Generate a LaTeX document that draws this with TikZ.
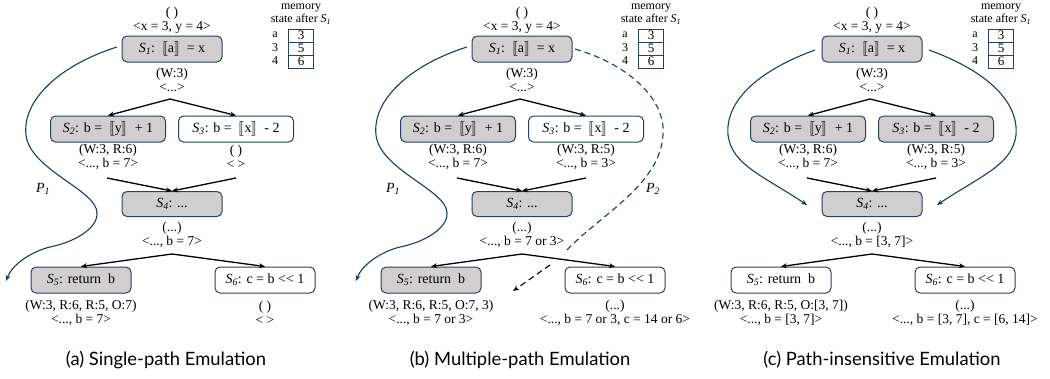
\documentclass[tikz,border=0pt]{standalone}
\usepackage{fontspec}
\setmainfont{Liberation Serif}
\setsansfont{Lato}
\usepackage{stmaryrd}
\usetikzlibrary{arrows.meta}

\definecolor{relleno}{HTML}{D0CECE}
\definecolor{borde}{HTML}{2E3F5E}
\definecolor{camino}{HTML}{1F3864}

\newcommand{\Sn}[1]{\textit{S\textsubscript{#1}}}
\newcommand{\Pn}[1]{\textit{P\textsubscript{#1}}}
\newcommand{\sem}[1]{$\llbracket$#1$\rrbracket$}

\tikzset{
  caja/.style={draw=borde, line width=1pt, rounded corners=5pt, minimum height=26pt,
    minimum width=100pt, inner sep=0pt, font=\fontsize{14}{16}\selectfont},
  gris/.style={caja, fill=relleno},
  blanca/.style={caja, fill=white},
  ancha/.style={minimum width=115pt},
  etiq/.style={align=center, inner sep=0pt, font=\fontsize{13.5}{14}\selectfont},
  mem/.style={align=center, inner sep=0pt, font=\fontsize{12}{13}\selectfont},
  celda/.style={draw=borde, line width=0.9pt, minimum width=25pt, minimum height=13pt,
    inner sep=0pt, font=\fontsize{13}{13}\selectfont},
  flecha/.style={-{Stealth[length=6pt,width=5pt]}, line width=1.3pt},
  curva/.style={-{Stealth[length=6pt,width=5pt]}, line width=1.1pt, draw=camino},
  titulo/.style={font=\sffamily\fontsize{18.4}{21}\selectfont},
}

\begin{document}
\begin{tikzpicture}[x=1pt, y=-1pt]
  \useasboundingbox (0,0) rectangle (1050,378);

  % Memoria
  \foreach \dx in {0,350,700} {
    \node[mem] (tit\dx) at (\dx+301,14) {memory\\state after \Sn{1}};
    \foreach \r/\k/\v in {0/a/3,1/3/5,2/4/6} {
      \node[celda] (m\dx\r) at (\dx+301,35.5+13*\r) {\v};
      \node[mem] (k\dx\r) at (\dx+275,35+13*\r) {\k};
    }
  }

  % (a) Un camino
  \begin{scope}
    \node[etiq] (a0) at (172,20) {( )\\<x = 3, y = 4>};
    \node[gris] (a1) at (172,49) {\Sn{1}:\ \ \sem{a}\ \ = x};
    \node[etiq] (a1l) at (172,80) {(W:3)\\<...>};
    \node[gris, ancha] (a2) at (108,129) {\Sn{2}: b =\ \ \sem{y}\ \ + 1};
    \node[blanca, ancha] (a3) at (236,129) {\Sn{3}: b =\ \ \sem{x}\ \ - 2};
    \node[etiq] (a2l) at (108,157) {(W:3, R:6)\\<..., b = 7>};
    \node[etiq] (a3l) at (236,157) {( )\\< >};
    \node[gris, minimum height=25pt] (a4) at (172,204) {\Sn{4}: ...};
    \node[etiq] (a4l) at (172,235) {(...)\\<..., b = 7>};
    \node[gris] (a5) at (81,280) {\Sn{5}: return\ \ b};
    \node[blanca] (a6) at (265,280) {\Sn{6}: c = b <\kern0pt< 1};
    \node[etiq] (a5l) at (81,313) {(W:3, R:6, R:5, O:7)\\<..., b = 7>};
    \node[etiq] (a6l) at (265,313) {( )\\< >};

    % Flechas
    \coordinate (a1b) at (170,99);
    \coordinate (a2b) at (107,178);
    \coordinate (a3b) at (236,178);
    \coordinate (a4b) at (172,254);
    \draw[flecha] (a1b) -- (a2.north);
    \draw[flecha] (a1b) -- (a3.north);
    \draw[flecha] (a2b) -- (a4.north);
    \draw[flecha] (a3b) -- (a4.north);
    \draw[flecha] (a4b) -- (a5.north);
    \draw[flecha] (a4b) -- (a6.north);

    % Camino P1
    \coordinate (ap1) at (117,47);
    \coordinate (ap1e) at (6,281);
    \draw[curva] (ap1) .. controls (60,65) and (22,100) .. (26,135)
      .. controls (30,170) and (97,190) .. (97,213)
      .. controls (98,228) and (75,242) .. (50,247)
      .. controls (30,252) and (12,265) .. (ap1e);
    \node[etiq, font=\fontsize{14}{14}\selectfont] (ap1l) at (43,189) {\Pn{1}};

    \node[titulo] (capa) at (166,360) {(a) Single-path Emulation};
  \end{scope}

  % (b) Varios caminos
  \begin{scope}[xshift=350]
    \node[etiq] (b0) at (172,20) {( )\\<x = 3, y = 4>};
    \node[gris] (b1) at (172,49) {\Sn{1}:\ \ \sem{a}\ \ = x};
    \node[etiq] (b1l) at (172,80) {(W:3)\\<...>};
    \node[gris, ancha] (b2) at (108,129) {\Sn{2}: b =\ \ \sem{y}\ \ + 1};
    \node[blanca, ancha] (b3) at (236,129) {\Sn{3}: b =\ \ \sem{x}\ \ - 2};
    \node[etiq] (b2l) at (108,157) {(W:3, R:6)\\<..., b = 7>};
    \node[etiq] (b3l) at (236,157) {(W:3, R:5)\\<..., b = 3>};
    \node[gris, minimum height=25pt] (b4) at (172,204) {\Sn{4}: ...};
    \node[etiq] (b4l) at (172,235) {(...)\\<..., b = 7 or 3>};
    \node[gris] (b5) at (81,280) {\Sn{5}: return\ \ b};
    \node[blanca] (b6) at (265,280) {\Sn{6}: c = b <\kern0pt< 1};
    \node[etiq] (b5l) at (81,313) {(W:3, R:6, R:5, O:7, 3)\\<..., b = 7 or 3>};
    \node[etiq] (b6l) at (265,313) {(...)\\<..., b = 7 or 3, c = 14 or 6>};

    % Flechas
    \coordinate (b1b) at (170,99);
    \coordinate (b2b) at (107,178);
    \coordinate (b3b) at (236,178);
    \coordinate (b4b) at (172,254);
    \draw[flecha] (b1b) -- (b2.north);
    \draw[flecha] (b1b) -- (b3.north);
    \draw[flecha] (b2b) -- (b4.north);
    \draw[flecha] (b3b) -- (b4.north);
    \draw[flecha] (b4b) -- (b5.north);
    \draw[flecha] (b4b) -- (b6.north);

    % Camino P1
    \coordinate (bp1) at (117,47);
    \coordinate (bp1e) at (6,281);
    \draw[curva] (bp1) .. controls (60,65) and (22,100) .. (26,135)
      .. controls (30,170) and (97,190) .. (97,213)
      .. controls (98,228) and (75,242) .. (50,247)
      .. controls (30,252) and (12,265) .. (bp1e);
    \node[etiq, font=\fontsize{14}{14}\selectfont] (bp1l) at (43,189) {\Pn{1}};

    % Camino P2
    \coordinate (bp2) at (225,49);
    \coordinate (bp2m) at (217,250);
    \coordinate (bp2r) at (200,265);
    \coordinate (bp2e) at (163,291);
    \draw[curva, -, dash pattern=on 6pt off 4pt] (bp2) .. controls (280,65) and (316,100) .. (313,135)
      .. controls (310,185) and (250,215) .. (bp2m);
    \draw[flecha, line width=1.1pt, dash pattern=on 6pt off 4pt] (bp2r) -- (bp2e);
    \node[etiq, font=\fontsize{14}{14}\selectfont] (bp2l) at (303,189) {\Pn{2}};

    \node[titulo] (capb) at (170,360) {(b) Multiple-path Emulation};
  \end{scope}

  % (c) Insensible al camino
  \begin{scope}[xshift=700]
    \node[etiq] (c0) at (172,20) {( )\\<x = 3, y = 4>};
    \node[gris] (c1) at (172,49) {\Sn{1}:\ \ \sem{a}\ \ = x};
    \node[etiq] (c1l) at (172,80) {(W:3)\\<...>};
    \node[gris, ancha] (c2) at (108,129) {\Sn{2}: b =\ \ \sem{y}\ \ + 1};
    \node[gris, ancha] (c3) at (236,129) {\Sn{3}: b =\ \ \sem{x}\ \ - 2};
    \node[etiq] (c2l) at (108,157) {(W:3, R:6)\\<..., b = 7>};
    \node[etiq] (c3l) at (236,157) {(W:3, R:5)\\<..., b = 3>};
    \node[gris, minimum height=25pt] (c4) at (172,204) {\Sn{4}: ...};
    \node[etiq] (c4l) at (172,235) {(...)\\<..., b = [3, 7]>};
    \node[blanca] (c5) at (81,280) {\Sn{5}: return\ \ b};
    \node[blanca] (c6) at (265,280) {\Sn{6}: c = b <\kern0pt< 1};
    \node[etiq] (c5l) at (81,313) {(W:3, R:6, R:5, O:[3, 7])\\<..., b = [3, 7]>};
    \node[etiq] (c6l) at (265,313) {(...)\\<..., b = [3, 7], c = [6, 14]>};

    % Flechas
    \coordinate (c1b) at (170,99);
    \coordinate (c2b) at (107,178);
    \coordinate (c3b) at (236,178);
    \coordinate (c4b) at (172,254);
    \draw[flecha] (c1b) -- (c2.north);
    \draw[flecha] (c1b) -- (c3.north);
    \draw[flecha] (c2b) -- (c4.north);
    \draw[flecha] (c3b) -- (c4.north);
    \draw[flecha] (c4b) -- (c5.north);
    \draw[flecha] (c4b) -- (c6.north);

    % Caminos a S4
    \coordinate (cpl) at (115,50);
    \coordinate (cple) at (107,205);
    \coordinate (cpr) at (229,50);
    \coordinate (cpre) at (237,205);
    \draw[curva] (cpl) .. controls (60,70) and (25,100) .. (28,135)
      .. controls (32,165) and (62,175) .. (cple);
    \draw[curva] (cpr) .. controls (284,70) and (319,100) .. (316,135)
      .. controls (312,165) and (282,175) .. (cpre);

    \node[titulo] (capc) at (182,360) {(c) Path-insensitive Emulation};
  \end{scope}
\end{tikzpicture}
\end{document}
